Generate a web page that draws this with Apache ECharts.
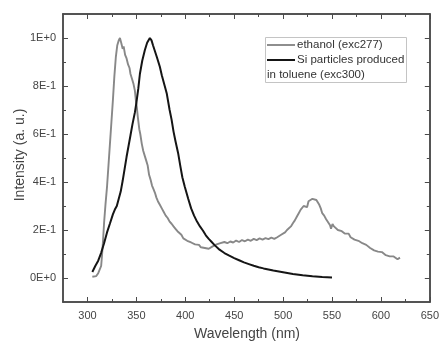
<!DOCTYPE html>
<html>
<head>
<meta charset="utf-8">
<script src="https://cdn.jsdelivr.net/npm/echarts@6/dist/echarts.min.js"></script>
<style>
  html, body { margin: 0; padding: 0; background: #fff; }
  #chart { width: 442px; height: 345px; }
</style>
</head>
<body>
<div id="chart"></div>
<script>
const ethanolX = [305, 307, 309, 311, 312.5, 314, 315, 316, 317, 318.5, 320, 321.5, 323, 324.5, 326, 327.5, 329, 330.5, 332, 333.2, 334.5, 336, 337, 338.5, 340, 341.5, 343, 344, 345.5, 347, 348.5, 349.5, 350.5, 351.5, 353, 354, 355.5, 357, 358.5, 360, 361.5, 363, 364.5, 366, 367.5, 369, 370.5, 372, 374, 376, 378, 380, 382, 384, 386, 388, 390, 392, 394, 396, 398, 400, 402, 404, 406, 408, 410, 412, 414, 416, 418, 420, 422, 424, 426, 428, 430, 432, 434, 436, 438, 440, 443, 446, 449, 452, 455, 458, 461, 464, 467, 470, 473, 476, 479, 482, 485, 488, 491, 494, 496, 498, 500, 502, 504, 506, 508, 510, 512, 514, 516, 518, 520, 521, 523, 524.5, 526, 528, 530, 532, 534, 535.5, 537, 538.5, 540, 542, 544, 546, 548, 549, 550.5, 552, 554, 556, 558, 560, 561.5, 563, 565, 567, 569, 571, 573, 575, 577, 579, 581, 583, 585, 587, 589, 591, 593, 595, 597, 599, 601, 603, 605, 607, 609, 611, 613, 615, 617, 618.5, 619.5];
const ethanolY = [0.005, 0.003, 0.008, 0.02, 0.015, 0.05, 0.1, 0.16, 0.23, 0.31, 0.38, 0.47, 0.56, 0.65, 0.74, 0.84, 0.92, 0.97, 0.99, 1.0, 0.98, 0.955, 0.965, 0.93, 0.915, 0.89, 0.875, 0.85, 0.83, 0.81, 0.78, 0.74, 0.71, 0.67, 0.62, 0.6, 0.56, 0.53, 0.51, 0.49, 0.47, 0.43, 0.41, 0.385, 0.37, 0.355, 0.335, 0.32, 0.305, 0.29, 0.275, 0.26, 0.25, 0.235, 0.226, 0.215, 0.205, 0.195, 0.188, 0.18, 0.165, 0.168, 0.155, 0.16, 0.148, 0.145, 0.14, 0.132, 0.138, 0.128, 0.133, 0.125, 0.13, 0.122, 0.128, 0.132, 0.128, 0.14, 0.135, 0.145, 0.14, 0.15, 0.145, 0.152, 0.148, 0.156, 0.15, 0.158, 0.153, 0.16, 0.155, 0.163, 0.158, 0.165, 0.16, 0.166, 0.162, 0.168, 0.163, 0.17, 0.165, 0.18, 0.176, 0.19, 0.2, 0.198, 0.215, 0.228, 0.24, 0.255, 0.27, 0.285, 0.28, 0.3, 0.305, 0.295, 0.32, 0.315, 0.33, 0.335, 0.325, 0.33, 0.305, 0.29, 0.27, 0.26, 0.245, 0.24, 0.22, 0.205, 0.225, 0.215, 0.21, 0.2, 0.205, 0.195, 0.2, 0.185, 0.18, 0.185, 0.17, 0.172, 0.16, 0.162, 0.155, 0.15, 0.145, 0.14, 0.138, 0.13, 0.125, 0.128, 0.115, 0.118, 0.11, 0.105, 0.108, 0.1, 0.095, 0.098, 0.09, 0.086, 0.09, 0.082, 0.078, 0.072, 0.085];

const siX = [305, 308, 311, 314, 317, 320, 323, 326, 328, 330, 332, 334, 336, 338, 340, 342, 344, 346, 348.5, 350, 352, 353.6, 356, 358.7, 361, 363.8, 365.5, 367, 369, 371, 374, 376, 379, 381, 384, 386, 388, 390, 392.7, 395, 397, 399.5, 403, 406, 409, 412, 415, 418, 421, 424, 427, 430, 435, 440, 445, 450, 455, 460, 465, 470, 475, 480, 490, 500, 510, 520, 530, 540, 550];
const siY = [0.025, 0.05, 0.072, 0.105, 0.145, 0.19, 0.227, 0.265, 0.285, 0.3, 0.33, 0.36, 0.405, 0.455, 0.505, 0.55, 0.595, 0.64, 0.69, 0.73, 0.79, 0.85, 0.905, 0.95, 0.98, 1.0, 0.99, 0.97, 0.945, 0.92, 0.88, 0.845, 0.8, 0.77, 0.7, 0.66, 0.61, 0.57, 0.52, 0.465, 0.42, 0.38, 0.33, 0.29, 0.26, 0.235, 0.215, 0.198, 0.178, 0.163, 0.15, 0.137, 0.118, 0.104, 0.093, 0.083, 0.074, 0.065, 0.058, 0.051, 0.045, 0.04, 0.031, 0.024, 0.017, 0.011, 0.007, 0.004, 0.002];

const xMajor = [300, 350, 400, 450, 500, 550, 600, 650];
const xMinor = [325, 375, 425, 475, 525, 575, 625];
const yMajor = [0, 0.2, 0.4, 0.6, 0.8, 1.0];
const yMinor = [0.1, 0.3, 0.5, 0.7, 0.9];
const yLabels = ["0E+0", "2E-1", "4E-1", "6E-1", "8E-1", "1E+0"];

const pairs = (xs, ys) => xs.map((x, i) => [x, ys[i]]);

const FONT = "Liberation Sans, Arial, sans-serif";
const AXIS = "#4a4a4a";
const LABEL = "#444";

function xAxisDef(position, ticks, len, withLabels) {
  return {
    type: "value", position, min: 275, max: 650,
    axisLine: { show: true, onZero: false, lineStyle: { color: AXIS, width: 1.5 } },
    axisTick: { show: true, inside: true, length: len, customValues: ticks, lineStyle: { color: AXIS, width: 1 } },
    axisLabel: withLabels
      ? { show: true, customValues: xMajor, margin: 8, color: LABEL, fontSize: 11, fontFamily: FONT }
      : { show: false },
    splitLine: { show: false },
  };
}

function yAxisDef(position, ticks, len, withLabels) {
  return {
    type: "value", position, min: -0.1, max: 1.1,
    axisLine: { show: true, onZero: false, lineStyle: { color: AXIS, width: 1.5 } },
    axisTick: { show: true, inside: true, length: len, customValues: ticks, lineStyle: { color: AXIS, width: 1 } },
    axisLabel: withLabels
      ? {
          show: true, customValues: yMajor, margin: 7, color: LABEL, fontSize: 11, fontFamily: FONT,
          formatter: (v) => yLabels[Math.round(v * 5)] || "",
        }
      : { show: false },
    splitLine: { show: false },
  };
}

const chart = echarts.init(document.getElementById("chart"), null, { renderer: "canvas" });

chart.setOption({
  animation: false,
  backgroundColor: "#fff",
  grid: { left: 63, right: 12, top: 14, bottom: 43 },
  xAxis: [
    xAxisDef("bottom", xMajor, 5, true),
    xAxisDef("bottom", xMinor, 3, false),
    xAxisDef("top", xMajor, 5, false),
    xAxisDef("top", xMinor, 3, false),
  ],
  yAxis: [
    yAxisDef("left", yMajor, 5, true),
    yAxisDef("left", yMinor, 3, false),
    yAxisDef("right", yMajor, 5, false),
    yAxisDef("right", yMinor, 3, false),
  ],
  series: [
    {
      name: "ethanol (exc277)", type: "line", data: pairs(ethanolX, ethanolY),
      showSymbol: false, lineStyle: { color: "#888", width: 1.9 }, z: 2,
    },
    {
      name: "Si particles produced in toluene (exc300)", type: "line", data: pairs(siX, siY),
      showSymbol: false, lineStyle: { color: "#151515", width: 2 }, z: 3,
    },
  ],
  graphic: [
    { type: "rect", shape: { x: 265.5, y: 37.5, width: 141, height: 45 }, style: { fill: "#fff", stroke: "#c4c4c4", lineWidth: 1 }, z: 10 },
    { type: "line", shape: { x1: 267, y1: 45, x2: 295, y2: 45 }, style: { stroke: "#888", lineWidth: 1.9 }, z: 11 },
    { type: "line", shape: { x1: 267, y1: 60, x2: 295, y2: 60 }, style: { stroke: "#151515", lineWidth: 2 }, z: 11 },
    { type: "text", x: 297, y: 45, style: { text: "ethanol (exc277)", fill: "#333", font: "11.5px " + FONT, textVerticalAlign: "middle" }, z: 11 },
    { type: "text", x: 297, y: 60, style: { text: "Si particles produced", fill: "#333", font: "11.5px " + FONT, textVerticalAlign: "middle" }, z: 11 },
    { type: "text", x: 267, y: 75, style: { text: "in toluene (exc300)", fill: "#333", font: "11.5px " + FONT, textVerticalAlign: "middle" }, z: 11 },
    { type: "text", x: 247, y: 334, style: { text: "Wavelength (nm)", fill: "#444", font: "14px " + FONT, textAlign: "center", textVerticalAlign: "middle" }, z: 11 },
    { type: "text", x: 20.5, y: 155, rotation: Math.PI / 2, style: { text: "Intensity (a. u.)", fill: "#444", font: "14px " + FONT, textAlign: "center", textVerticalAlign: "middle" }, z: 11 },
  ],
});
</script>
</body>
</html>
